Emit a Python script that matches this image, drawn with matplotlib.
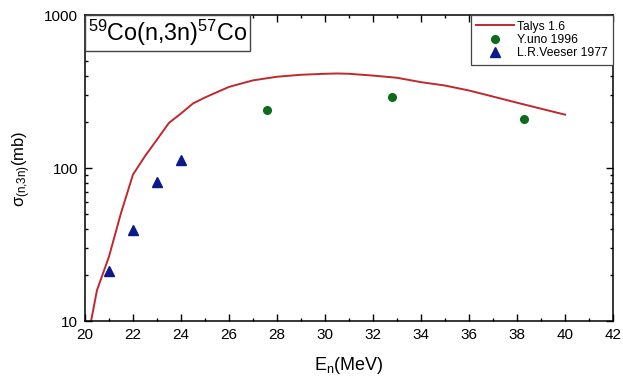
import numpy as np
import matplotlib.pyplot as plt
from matplotlib.ticker import MultipleLocator, LogLocator, NullFormatter
from matplotlib.offsetbox import AnchoredText

plt.rcParams['font.family'] = ['Liberation Sans', 'DejaVu Sans']
plt.rcParams['mathtext.default'] = 'regular'

# TALYS 1.6 calculation, 59Co(n,3n)57Co
talys_e = [20.25, 20.5, 21, 21.5, 22, 22.5, 23, 23.5, 24, 24.5, 25, 26, 27, 28,
           29, 30, 30.5, 31, 32, 33, 34, 35, 36, 37, 38, 39, 40]
talys_xs = [10, 16, 26.5, 51, 91, 120, 154, 198, 228, 265, 290, 340, 375, 396,
            408, 414, 416, 414, 403, 390, 365, 347, 322, 294, 268, 245, 224]

# measurements
uno_e = [27.6, 32.8, 38.3]
uno_xs = [240, 293, 209]
veeser_e = [21, 22, 23, 24]
veeser_xs = [21.2, 39.3, 81.5, 113]

fig = plt.figure(figsize=(6.23, 3.78), dpi=100)
ax = fig.add_axes([0.1364, 0.1495, 0.8476, 0.8105])

ax.plot(talys_e, talys_xs, color='#c0282d', lw=1.4, label='Talys 1.6')
ax.plot(uno_e, uno_xs, 'o', color='#0d6b1c', ms=5.5, label='Y.uno 1996')
ax.plot(veeser_e, veeser_xs, '^', color='#0a1a8c', ms=7, label='L.R.Veeser 1977')

ax.set_yscale('log')
ax.set_xlim(20, 42)
ax.set_ylim(10, 1000)
ax.xaxis.set_major_locator(MultipleLocator(2))
ax.xaxis.set_minor_locator(MultipleLocator(1))
ax.yaxis.set_minor_locator(LogLocator(base=10, subs=np.arange(2, 10)))
ax.yaxis.set_minor_formatter(NullFormatter())
ax.set_yticks([10, 100, 1000])
ax.set_yticklabels(['10', '100', '1000'])

ax.tick_params(which='both', direction='in', top=True, right=True,
               labelsize=11, width=1.0, colors='black')
ax.tick_params(which='major', length=5, pad=5)
ax.tick_params(which='minor', length=2.5)
for s in ax.spines.values():
    s.set_linewidth(1.1)

ax.set_xlabel('E$_n$(MeV)', fontsize=13, labelpad=9)
ax.set_ylabel(r'$\sigma_{(n{,}3n)}$(mb)', fontsize=12, labelpad=8)

# reaction label in the upper left corner
title = AnchoredText('$^{59}$Co(n,3n)$^{57}$Co', loc='upper left',
                     prop=dict(size=16.8), pad=0.12, borderpad=0.0, frameon=True)
title.patch.set_edgecolor('#444444')
title.patch.set_linewidth(1.0)
ax.add_artist(title)

leg = ax.legend(loc='upper right', fontsize=8.7, fancybox=False, framealpha=1,
                edgecolor='#444444', borderpad=0.45, labelspacing=0.12,
                handlelength=3.1, handletextpad=0.25, borderaxespad=0.0)
leg.get_frame().set_linewidth(0.9)

fig.savefig('out.png', dpi=100)
